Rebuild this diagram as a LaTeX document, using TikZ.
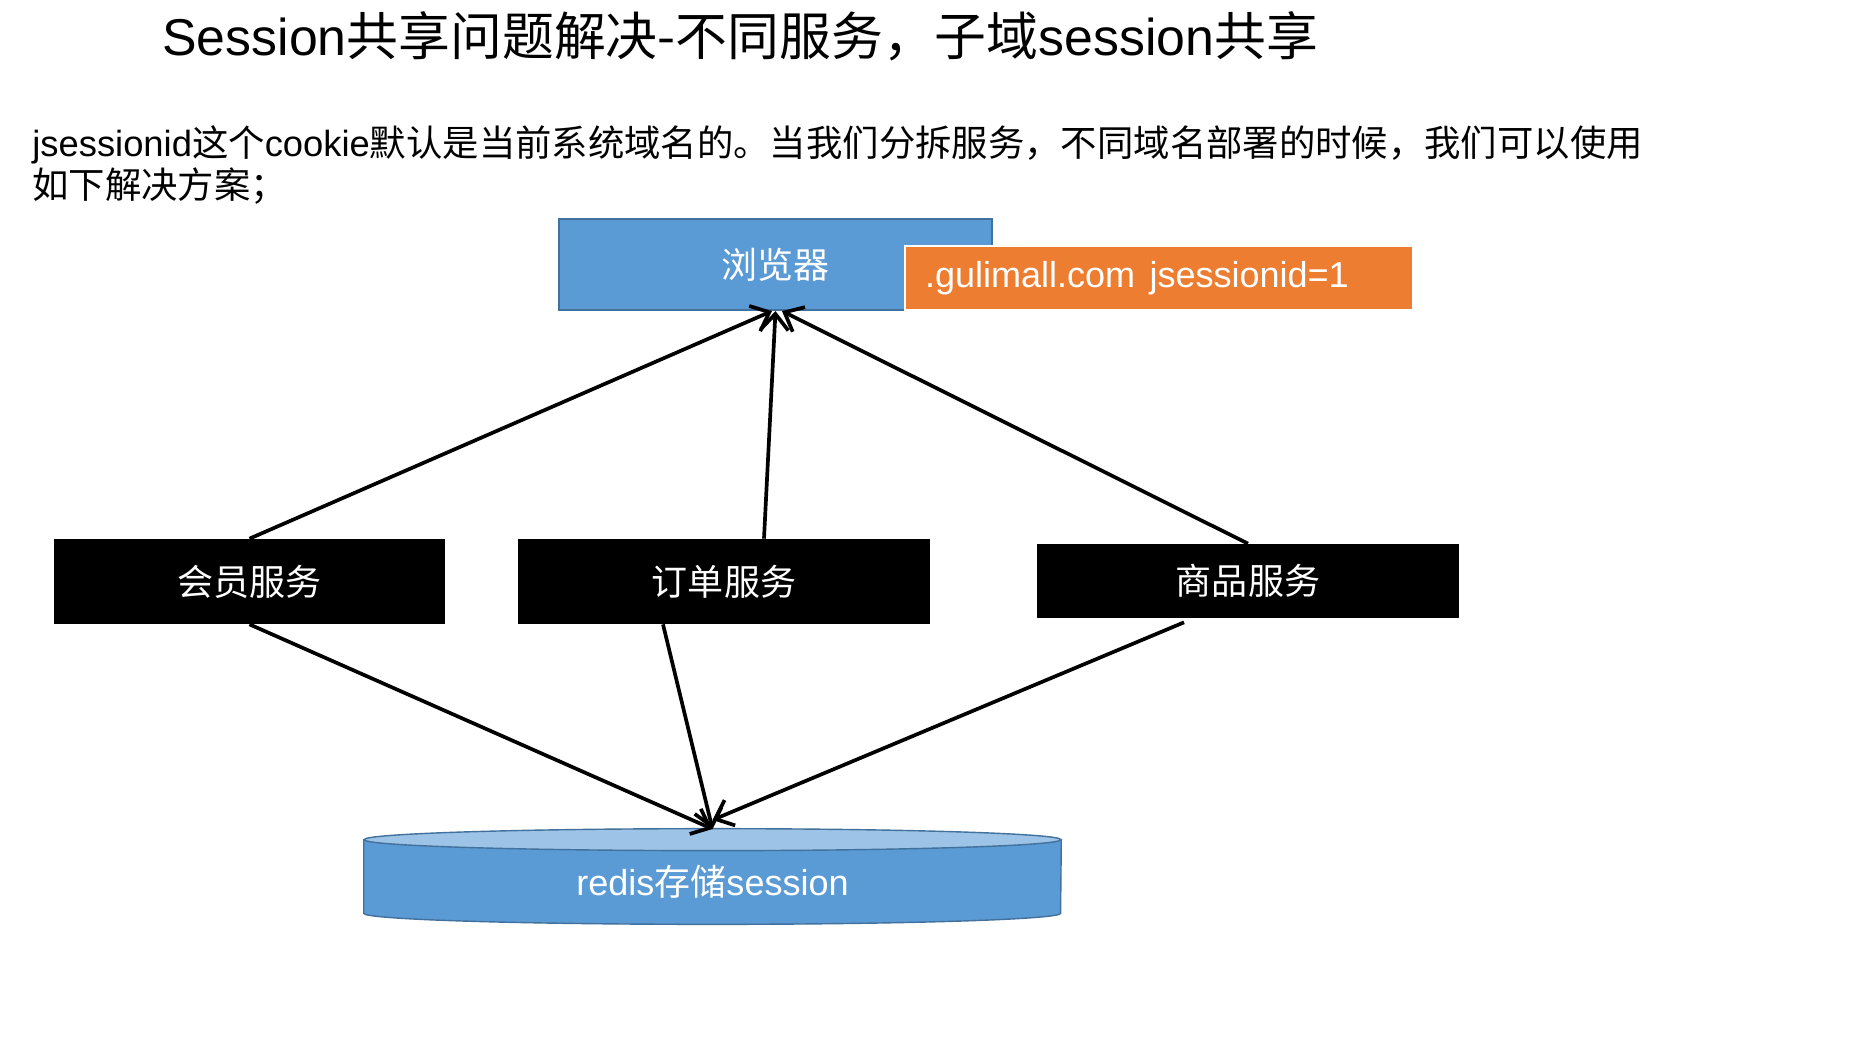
\documentclass[tikz,border=0pt]{standalone}
\usepackage{fontspec}
\setmainfont{Liberation Sans}
\newfontfamily\cjkfont{Noto Sans CJK SC}
\usepackage{tikz}
\usetikzlibrary{arrows.meta}
\definecolor{ssblue}{HTML}{5B9BD5}
\definecolor{ssedge}{HTML}{41719C}
\definecolor{sslight}{HTML}{9DC3E6}
\definecolor{ssorange}{HTML}{ED7D31}

\begin{document}
\begin{tikzpicture}[x=0.02cm,y=-0.02cm,
  txt/.style={font={\fontsize{20.5}{24.4}\selectfont}},
  blk/.style={txt,draw=ssedge,line width=1.2pt,fill=ssblue,text=white,
              minimum width=8.66cm,minimum height=1.82cm,inner sep=0pt},
  tag/.style={txt,draw=white,line width=1.5pt,fill=ssorange,text=white,
              text width=9.36cm,align=left,inner xsep=0.4cm,inner ysep=0pt,
              minimum height=1.28cm},
  svc/.style={txt,fill=black,text=white,inner sep=0pt},
  arr/.style={-{Straight Barb[length=3.2mm,width=5.5mm]},line width=2.1pt}
]
\useasboundingbox[fill=white] (0,0) rectangle (1857,1038);

% Heading
\node[anchor=west,inner sep=0pt,font={\fontsize{29.5}{34}\selectfont}] (title) at (162,36)
  {Session{\cjkfont 共享问题解决-不同服务，子域}session{\cjkfont 共享}};
\node[txt,anchor=west,inner sep=0pt,align=left,font={\fontsize{20.7}{24.4}\selectfont}] (intro) at (32,165)
  {jsessionid{\cjkfont 这个}cookie{\cjkfont 默认是当前系统域名的。当我们分拆服务，不同域名部署的时候，我们可以使用}\\
   {\cjkfont 如下解决方案；}};

% Browser + cookie
\node[blk] (llq) at (775.5,264.5) {\cjkfont 浏览器};
\node[tag] (cookie) at (1159,278) {.gulimall.com\hspace{0.4em}jsessionid=1};

% Services
\node[svc,minimum width=7.82cm,minimum height=1.7cm] (hy) at (249.5,581.5) {\cjkfont 会员服务};
\node[svc,minimum width=8.24cm,minimum height=1.7cm] (dd) at (724,581.5) {\cjkfont 订单服务};
\node[svc,minimum width=8.44cm,minimum height=1.48cm] (sp) at (1248,581) {\cjkfont 商品服务};

% Redis
\node[txt,text=white,minimum width=13.94cm,minimum height=1.46cm,inner sep=0pt] (redis) at (712.5,876.5) {};
\fill[ssblue] (redis.north west) -- (redis.south west)
  arc[start angle=180,end angle=360,x radius=6.97cm,y radius=0.22cm] -- (redis.north east) -- cycle;
\draw[ssedge,line width=0.8pt] (redis.north west) -- (redis.south west)
  arc[start angle=180,end angle=360,x radius=6.97cm,y radius=0.22cm] -- (redis.north east);
\draw[ssedge,line width=0.8pt,fill=sslight] (redis.north) ellipse[x radius=6.97cm,y radius=0.22cm];
\node[txt,text=white] (redistxt) at (712.5,882) {redis{\cjkfont 存储}session};
\coordinate (rtop) at (712.5,829);

% Arrows
\draw[arr] (hy.north) -- ([xshift=-0.07cm]llq.south);
\draw[arr] ([xshift=0.8cm]dd.north) -- (llq.south);
\draw[arr] (sp.north) -- ([xshift=0.13cm]llq.south);

\draw[arr] (hy.south) -- (rtop);
\draw[arr] ([xshift=-1.22cm]dd.south) -- (rtop);
\draw[arr] ([xshift=-1.28cm,yshift=-0.08cm]sp.south) -- ([yshift=0.18cm]rtop);

\end{tikzpicture}
\end{document}
